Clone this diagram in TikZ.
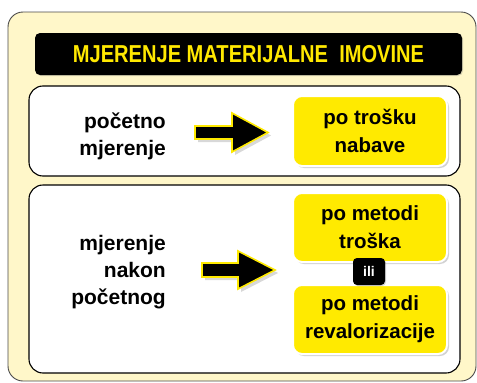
\documentclass[tikz,border=0pt]{standalone}
\usepackage{fontspec}
\setmainfont{Liberation Sans}
\usetikzlibrary{shadows,calc}
\definecolor{frameyellow}{HTML}{FFF7C9}
\definecolor{boxyellow}{HTML}{FFEA00}
\definecolor{titleyellow}{HTML}{FFE800}
\definecolor{framegray}{HTML}{4A4A4A}
\begin{document}
\begin{tikzpicture}[x=1pt,y=-1pt,
  panel/.style={draw=black, line width=1.1pt, fill=white, rounded corners=14pt, inner sep=0pt},
  ybox/.style={draw=white, line width=2pt, fill=boxyellow, rounded corners=9pt, minimum width=154pt, inner sep=0pt,
     align=center, font=\bfseries\fontsize{20.5}{28}\selectfont,
     drop shadow={opacity=0.35, shadow xshift=2pt, shadow yshift=-2pt}},
  lbl/.style={align=right, anchor=east, font=\bfseries\fontsize{21}{27}\selectfont, inner sep=0pt},
  arrowshape/.style={fill=black, draw=boxyellow, line width=1.6pt, line join=miter,
     drop shadow={opacity=0.3, shadow xshift=3pt, shadow yshift=-3pt}}]
\useasboundingbox (0,0) rectangle (477,383);
% outer frame
\node[draw=framegray, line width=0.9pt, fill=frameyellow, rounded corners=15pt, minimum width=468pt, minimum height=369pt, inner sep=0pt] (frame) at (242,196.5) {};
% title bar
\node[fill=black, rounded corners=5pt, minimum width=427pt, minimum height=42pt, inner sep=0pt,
  drop shadow={opacity=0.3, shadow xshift=1pt, shadow yshift=-1pt}] (title) at (248.5,54)
  {\scalebox{0.82}[1]{\color{titleyellow}\bfseries\fontsize{24.5}{24}\selectfont MJERENJE MATERIJALNE\ \ IMOVINE}};
% panels
\node[panel, minimum width=431pt, minimum height=90pt] (p1) at (244.5,131) {};
\node[panel, minimum width=431pt, minimum height=188pt] (p2) at (244.5,279) {};
% labels
\node[lbl] (l1) at (166,136) {početno\\mjerenje};
\node[lbl] (l2) at (166,272) {mjerenje\\nakon\\početnog};
% yellow boxes
\node[ybox, minimum height=70pt] (y1) at (370,131) {po trošku\\nabave};
\node[ybox, minimum height=69pt] (y2) at (370,227.5) {po metodi\\troška};
\node[ybox, minimum height=69pt] (y3) at (370,319.5) {po metodi\\revalorizacije};
\node[fill=black, rounded corners=4pt, minimum width=32pt, minimum height=27pt, inner sep=0pt,
  text=white, font=\bfseries\fontsize{14}{14}\selectfont,
  drop shadow={opacity=0.3, shadow xshift=1pt, shadow yshift=-1pt}] (ili) at (369,271.5) {ili};
% arrows
\coordinate (a1s) at (195,132.5);
\coordinate (a1t) at (268,132.5);
\draw[arrowshape] ($(a1s)+(0,-6.5)$) -- (232,126) -- (232,113) -- (a1t) -- (232,152) -- (232,139) -- ($(a1s)+(0,6.5)$) -- cycle;
\coordinate (a2s) at (202,270);
\coordinate (a2t) at (275,270);
\draw[arrowshape] ($(a2s)+(0,-7)$) -- (238,263) -- (238,251) -- (a2t) -- (238,289) -- (238,277) -- ($(a2s)+(0,7)$) -- cycle;
\end{tikzpicture}
\end{document}
